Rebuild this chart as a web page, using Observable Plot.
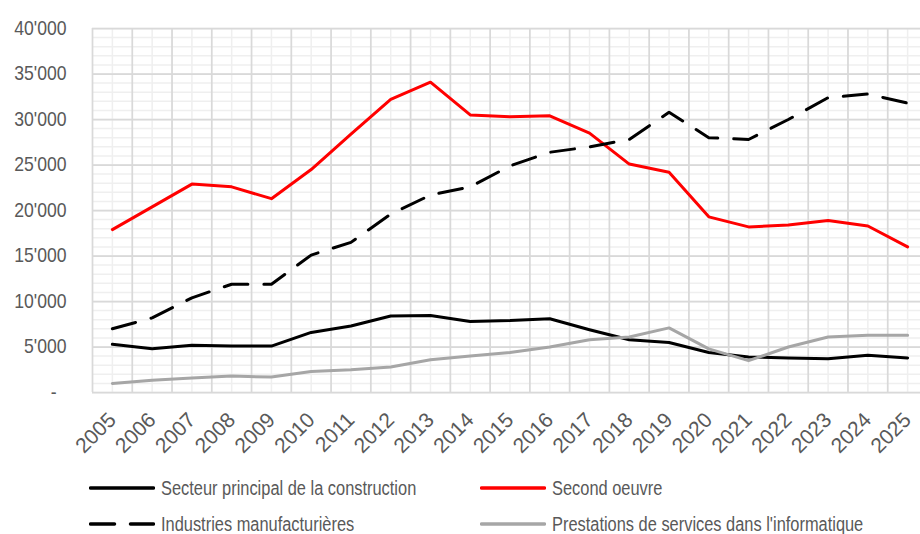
<!DOCTYPE html>
<html><head><meta charset="utf-8">
<script src="https://cdn.jsdelivr.net/npm/d3@7"></script>
<script src="https://cdn.jsdelivr.net/npm/@observablehq/plot@0.6"></script>
<style>
body{margin:0;background:#fff;}
#wrap{position:relative;width:920px;height:534px;overflow:hidden;font-family:"Liberation Sans",Arial,sans-serif;}
#legend{position:absolute;left:0;top:460px;width:920px;height:74px;}
.item{position:absolute;display:flex;align-items:center;color:#595959;font-size:20px;height:30px;white-space:nowrap;}
.item svg{margin-right:6px;flex:none;}
.item span{display:inline-block;transform:scaleX(0.82);transform-origin:left center;}
</style></head><body><div id="wrap"><div id="chart"></div><div id="legend"></div></div>
<script>
const years = [2005,2006,2007,2008,2009,2010,2011,2012,2013,2014,2015,2016,2017,2018,2019,2020,2021,2022,2023,2024,2025];
const principal = [5300,4800,5200,5100,5100,6600,7300,8400,8450,7800,7900,8100,6900,5800,5500,4400,3900,3800,3700,4100,3800];
const secondOeuvre = [17900,20400,22900,22600,21300,24500,28400,32200,34100,30500,30300,30400,28500,25100,24200,19300,18200,18400,18900,18300,16000];
const industries = [7000,8200,10400,11900,11900,15100,16500,19600,21700,22600,24900,26400,27000,27800,30800,28000,27800,30000,32400,32800,31800];
const informatique = [1000,1350,1600,1800,1700,2300,2500,2800,3600,4000,4400,5000,5800,6100,7100,4800,3500,5000,6100,6300,6300];
const seriesNames = ["Secteur principal de la construction","Second oeuvre","Industries manufacturières","Prestations de services dans l'informatique"];
const yTicks = [0,5000,10000,15000,20000,25000,30000,35000,40000];
const yMinor = d3.range(0, 40001, 1000);

const series = [
  {name: seriesNames[0], values: principal, color: "#000000", dash: null},
  {name: seriesNames[1], values: secondOeuvre, color: "#ff0000", dash: null},
  {name: seriesNames[2], values: industries, color: "#000000", dash: "24,16"},
  {name: seriesNames[3], values: informatique, color: "#a6a6a6", dash: null}
];

const xMajor = years.map(y => y - 0.5).concat([years[years.length-1] + 0.5]);
const fmt = d => d === 0 ? "-\u00a0\u00a0" : d3.format(",")(d).replace(/,/g, "'");

const chart = Plot.plot({
  width: 920,
  height: 460,
  marginTop: 28,
  marginBottom: 68,
  marginLeft: 92,
  marginRight: 0,
  style: {fontFamily: '"Liberation Sans",Arial,sans-serif', background: "#fff", overflow: "visible"},
  x: {type: "linear", domain: [years[0] - 0.5, years[years.length-1] + 0.5], range: [92, 927]},
  y: {domain: [0, 40000]},
  marks: [
    Plot.gridX(years, {stroke: "#efefef", strokeOpacity: 1, strokeWidth: 1.5}),
    Plot.gridY(yMinor, {stroke: "#efefef", strokeOpacity: 1, strokeWidth: 1.5}),
    Plot.gridX(xMajor, {stroke: "#d9d9d9", strokeOpacity: 1, strokeWidth: 1.75}),
    Plot.gridY(yTicks, {stroke: "#d9d9d9", strokeOpacity: 1, strokeWidth: 1.75}),
    Plot.axisY(yTicks, {tickSize: 0, tickPadding: 26, tickFormat: fmt, fontSize: 20, fill: "#595959", label: null}),
    Plot.axisX(years, {tickSize: 0, tickPadding: 24, tickRotate: -45, tickFormat: d => String(d), fontSize: 21, fill: "#595959", label: null}),
    ...series.map(s => Plot.line(years.map((yr, i) => ({year: yr, v: s.values[i]})), {
      x: "year", y: "v", stroke: s.color, strokeWidth: 3, strokeDasharray: s.dash,
      strokeLinecap: "round", strokeLinejoin: "round"
    }))
  ]
});

// condense y-axis text horizontally (narrow face look)
chart.querySelectorAll("text").forEach(t => {
  const tr = t.getAttribute("transform");
  if (tr && tr.includes("rotate")) return;
  const k = 0.88;
  if (tr) {
    t.setAttribute("transform", tr + ` scale(${k},1)`);
  } else {
    const x = +(t.getAttribute("x") || 0), y = +(t.getAttribute("y") || 0);
    t.removeAttribute("x"); t.removeAttribute("y");
    t.setAttribute("transform", `translate(${x},${y}) scale(${k},1)`);
  }
});
document.getElementById("chart").appendChild(chart);

const legend = document.getElementById("legend");
const pos = [[89, 13], [480, 13], [89, 49], [480, 49]];
series.forEach((s, i) => {
  const div = document.createElement("div");
  div.className = "item";
  div.style.left = pos[i][0] + "px";
  div.style.top = pos[i][1] + "px";
  const dash = s.dash ? `stroke-dasharray="24,16"` : "";
  div.innerHTML = `<svg width="66" height="6"><line x1="1.5" y1="3" x2="64.5" y2="3" stroke="${s.color}" stroke-width="3.5" stroke-linecap="round" ${dash}></line></svg><span></span>`;
  div.querySelector("span").textContent = s.name;
  legend.appendChild(div);
});
</script>
</body></html>
